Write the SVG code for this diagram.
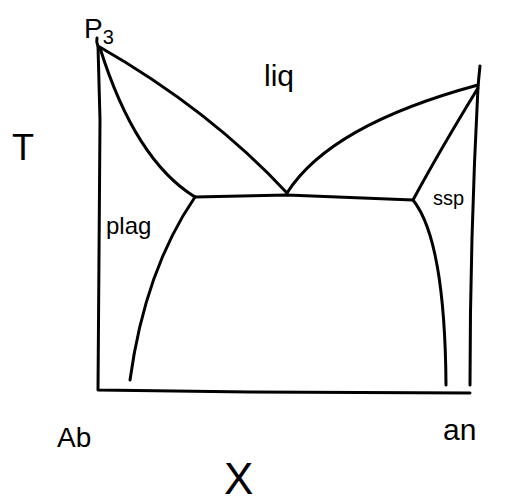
<svg xmlns="http://www.w3.org/2000/svg" width="511" height="502" viewBox="0 0 511 502">
<style>
.ln{fill:none;stroke:#000;stroke-width:3;stroke-linecap:round;stroke-linejoin:round}
.t{font-family:"Liberation Sans",Arial,sans-serif;fill:#000}
</style>
<rect width="511" height="502" fill="#fff"/>
<g id="connectors">
<path class="ln" d="M97,38 Q96,42 98,46 L100,120 Q99,300 98,390 L250,392 L470,393"/>
<path class="ln" d="M480,66 Q479,75 478,87 Q470,240 470,385"/>
<path class="ln" d="M98,46 Q210,110 287,193"/>
<path class="ln" d="M100,48 Q135,160 195,197"/>
<path class="ln" d="M195,197 L287,195 L413,200"/>
<path class="ln" d="M287,193 Q330,125 478,85"/>
<path class="ln" d="M478,88 Q440,150 413,200"/>
<path class="ln" d="M195,197 Q145,270 130,380"/>
<path class="ln" d="M413,200 Q445,240 446,385"/>
</g>
<g id="label-P3"><text class="t" x="84" y="38" font-size="28">P<tspan font-size="20" dy="6">3</tspan></text></g>
<g id="label-liq"><text class="t" x="264" y="86" font-size="30">liq</text></g>
<g id="label-T"><text class="t" x="12" y="160" font-size="36">T</text></g>
<g id="label-plag"><text class="t" x="106" y="234" font-size="24">plag</text></g>
<g id="label-ssp"><text class="t" x="433" y="205" font-size="20">ssp</text></g>
<g id="label-Ab"><text class="t" x="57" y="447" font-size="28">Ab</text></g>
<g id="label-an"><text class="t" x="443" y="440" font-size="30">an</text></g>
<g id="label-X"><text class="t" x="224" y="494" font-size="44">X</text></g>
</svg>
